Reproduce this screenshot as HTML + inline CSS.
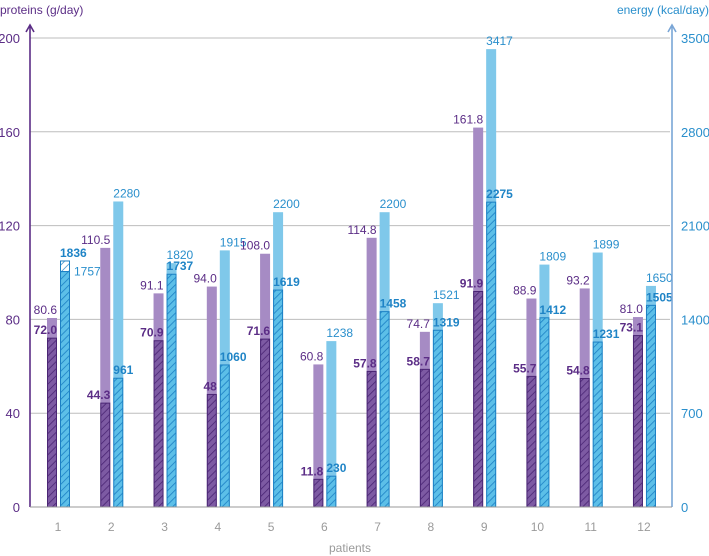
<!DOCTYPE html>
<html><head><meta charset="utf-8"><style>
html,body{margin:0;padding:0;background:#fff;}
svg{display:block;font-family:"Liberation Sans",sans-serif;}
</style></head><body>
<svg id="c" width="709" height="556" viewBox="0 0 709 556">
<defs>
<pattern id="hp" patternUnits="userSpaceOnUse" width="5" height="5" patternTransform="rotate(45)">
<rect width="5" height="5" fill="#7d5aa3"/><line x1="0" y1="0" x2="0" y2="5" stroke="#4a2574" stroke-width="1.6"/></pattern>
<pattern id="hb" patternUnits="userSpaceOnUse" width="5" height="5" patternTransform="rotate(45)">
<rect width="5" height="5" fill="#5cbfe8"/><line x1="0" y1="0" x2="0" y2="5" stroke="#1c80c4" stroke-width="1.6"/></pattern>
<pattern id="hw" patternUnits="userSpaceOnUse" width="5" height="5" patternTransform="rotate(45)">
<rect width="5" height="5" fill="#fff"/><line x1="0" y1="0" x2="0" y2="5" stroke="#1c80c4" stroke-width="1.4"/></pattern>
</defs>
</svg>
<script>
const patients=["1","2","3","4","5","6","7","8","9","10","11","12"];
const protTotal=[80.6,110.5,91.1,94.0,108.0,60.8,114.8,74.7,161.8,88.9,93.2,81.0];
const protDelivered=[72.0,44.3,70.9,48,71.6,11.8,57.8,58.7,91.9,55.7,54.8,73.1];
const protDeliveredLabels=["72.0","44.3","70.9","48","71.6","11.8","57.8","58.7","91.9","55.7","54.8","73.1"];
const energyTotal=[1757,2280,1820,1915,2200,1238,2200,1521,3417,1809,1899,1650];
const energyDelivered=[1836,961,1737,1060,1619,230,1458,1319,2275,1412,1231,1505];
const protTicks=[0,40,80,120,160,200];
const energyTicks=[0,700,1400,2100,2800,3500];

const svg=document.getElementById('c');
const NS='http://www.w3.org/2000/svg';
const y0=507,y1=38,xl=30,xr=670;
const yP=v=>y0-(v/200)*(y0-y1);
const yE=v=>y0-(v/3500)*(y0-y1);
const xP=i=>47+53.27*i;
const xB=i=>xP(i)+13;
function mk(t,a,txt){const e=document.createElementNS(NS,t);for(const k in a)e.setAttribute(k,a[k]);if(txt!==undefined)e.textContent=txt;svg.appendChild(e);return e;}

protTicks.forEach((v,i)=>{
 const g=mk('line',{x1:xl,x2:xr,y1:yP(v),y2:yP(v),stroke:'#bdbdbd','stroke-width':1});
 
 
 const t=mk('text',{x:20,y:yP(v)+5,'text-anchor':'end','font-size':13,fill:'#5b2d86'},String(v));
 
 
});
energyTicks.forEach((v,i)=>{
 const t=mk('text',{x:681,y:yE(v)+5,'font-size':13,fill:'#2a8fcc'},String(v));
 
 
});

patients.forEach((p,i)=>{
 const xp=xP(i),xb=xB(i);
 let r=mk('rect',{x:xp,y:yP(protTotal[i]),width:10,height:y0-yP(protTotal[i]),fill:'#a68bc4'});
 
 
 r=mk('rect',{x:xp+0.5,y:yP(protDelivered[i]),width:9,height:y0-yP(protDelivered[i]),fill:'url(#hp)',stroke:'#4a2574','stroke-width':1});
 
 
 const over=energyDelivered[i]>energyTotal[i];
 if(!over){
  r=mk('rect',{x:xb,y:yE(energyTotal[i]),width:10,height:y0-yE(energyTotal[i]),fill:'#7fc8ea'});
  
  
  r=mk('rect',{x:xb+0.5,y:yE(energyDelivered[i]),width:9,height:y0-yE(energyDelivered[i]),fill:'url(#hb)',stroke:'#1c80c4','stroke-width':1});
  
  
 } else {
  r=mk('rect',{x:xb+0.5,y:yE(energyDelivered[i]),width:9,height:yE(energyTotal[i])-yE(energyDelivered[i]),fill:'url(#hw)',stroke:'#1c80c4','stroke-width':1});
  
  
  r=mk('rect',{x:xb+0.5,y:yE(energyTotal[i]),width:9,height:y0-yE(energyTotal[i]),fill:'url(#hb)',stroke:'#1c80c4','stroke-width':1});
  
  
 }
 let t=mk('text',{x:xp+10,y:yP(protTotal[i])-4,'text-anchor':'end','font-size':12,fill:'#5b2d86'},protTotal[i].toFixed(1));
 
 
 t=mk('text',{x:xp+10,y:yP(protDelivered[i])-4,'text-anchor':'end','font-size':12,'font-weight':'bold',fill:'#5b2d86'},protDeliveredLabels[i]);
 
 
 if(!over){
  t=mk('text',{x:xb,y:yE(energyTotal[i])-4,'font-size':12,fill:'#2a8fcc'},String(energyTotal[i]));
 } else {
  t=mk('text',{x:xb+14,y:yE(energyTotal[i])+4,'font-size':12,fill:'#2a8fcc'},String(energyTotal[i]));
 }
 
 
 t=mk('text',{x:xb,y:yE(energyDelivered[i])-4,'font-size':12,'font-weight':'bold',fill:'#1f84c6'},String(energyDelivered[i]));
 
 
 t=mk('text',{x:xp+11,y:531,'text-anchor':'middle','font-size':12,fill:'#9a9a9a'},p);
 
 
});

let a=mk('path',{d:'M30 507 V26 M26 32 L30 25 L34 32',stroke:'#5b2d86','stroke-width':1.6,fill:'none'});


a=mk('path',{d:'M672 507 V26 M668 32 L672 25 L676 32',stroke:'#7aa6d6','stroke-width':1.6,fill:'none'});


a=mk('line',{x1:30,x2:672,y1:507,y2:507,stroke:'#999','stroke-width':1});


let t=mk('text',{x:0,y:14,'font-size':12,fill:'#5b2d86'},'proteins (g/day)');


t=mk('text',{x:709,y:14,'text-anchor':'end','font-size':12,fill:'#2a8fcc'},'energy (kcal/day)');


t=mk('text',{x:350,y:552,'text-anchor':'middle','font-size':12,fill:'#9a9a9a'},'patients');


</script>
</body></html>
